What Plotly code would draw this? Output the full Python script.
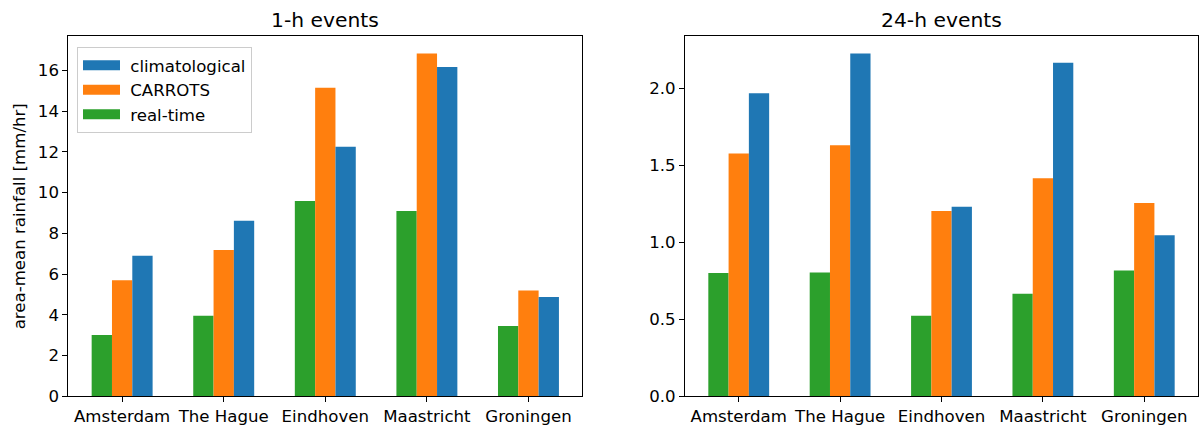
import plotly.graph_objects as go

cities = ["Amsterdam", "The Hague", "Eindhoven", "Maastricht", "Groningen"]
series_names = ["real-time", "CARROTS", "climatological"]
colors = ["#2ca02c", "#ff7f0e", "#1f77b4"]

h1_realtime = [3.01, 3.95, 9.59, 9.10, 3.45]
h1_carrots = [5.70, 7.18, 15.15, 16.83, 5.19]
h1_clim = [6.90, 8.62, 12.25, 16.17, 4.87]

h24_realtime = [0.801, 0.803, 0.522, 0.665, 0.816]
h24_carrots = [1.576, 1.629, 1.203, 1.415, 1.254]
h24_clim = [1.967, 2.225, 1.230, 2.165, 1.046]

left_ticks = [0, 2, 4, 6, 8, 10, 12, 14, 16]
right_ticks = [0.0, 0.5, 1.0, 1.5, 2.0]
right_tick_text = ["0.0", "0.5", "1.0", "1.5", "2.0"]

FONT = "DejaVu Sans"
FS = 16.6
W, H = 1200, 439

fig = go.Figure()
xidx = list(range(len(cities)))

for name, vals, col in zip(series_names, [h1_realtime, h1_carrots, h1_clim], colors):
    fig.add_trace(go.Bar(x=xidx, y=vals, name=name, marker=dict(color=col, line=dict(width=0)),
                         xaxis="x", yaxis="y", showlegend=False))
for name, vals, col in zip(series_names, [h24_realtime, h24_carrots, h24_clim], colors):
    fig.add_trace(go.Bar(x=xidx, y=vals, name=name, marker=dict(color=col, line=dict(width=0)),
                         xaxis="x2", yaxis="y2", showlegend=False))
# legend entries (wide colour patches like matplotlib)
for name, col in zip(series_names, colors):
    fig.add_trace(go.Scatter(x=[None], y=[None], mode="lines", name="\u00a0" + name,
                             line=dict(color=col, width=11), xaxis="x", yaxis="y", showlegend=True))

def px_x(p):
    return p / W

def px_y(p):
    return 1 - p / H

ydom = [px_y(405.5), px_y(37.3)]

axis_common = dict(showline=True, linecolor="black", linewidth=1, mirror=True,
                   ticks="outside", ticklen=5, tickwidth=1, tickcolor="black",
                   showgrid=False, zeroline=False,
                   tickfont=dict(family=FONT, size=FS, color="black"))

fig.update_layout(
    width=W, height=H,
    margin=dict(l=0, r=0, t=0, b=0),
    paper_bgcolor="white", plot_bgcolor="white",
    barmode="group", bargap=0.4, bargroupgap=0,
    font=dict(family=FONT, size=FS, color="black"),
    xaxis=dict(domain=[px_x(68.3), px_x(582.3)], range=[-0.53, 4.53],
               tickvals=xidx, ticktext=cities, anchor="y", **axis_common),
    yaxis=dict(domain=ydom, range=[0, 17.67], tickvals=left_ticks, anchor="x", **axis_common),
    xaxis2=dict(domain=[px_x(685), px_x(1198)], range=[-0.53, 4.53],
                tickvals=xidx, ticktext=cities, anchor="y2", **axis_common),
    yaxis2=dict(domain=ydom, range=[0, 2.336], tickvals=right_ticks, ticktext=right_tick_text,
                anchor="x2", **axis_common),
    legend=dict(x=px_x(77), y=px_y(48), xanchor="left", yanchor="top",
                traceorder="reversed", bgcolor="rgba(255,255,255,0.8)",
                bordercolor="#cccccc", borderwidth=1,
                font=dict(family=FONT, size=FS, color="black"),
                itemwidth=37, tracegroupgap=0),
    annotations=[
        dict(text="1-h events", x=(px_x(68.3) + px_x(582.3)) / 2, y=px_y(20), xref="paper", yref="paper",
             showarrow=False, font=dict(family=FONT, size=20.3, color="black"), xanchor="center", yanchor="middle"),
        dict(text="24-h events", x=(px_x(685) + px_x(1198)) / 2, y=px_y(20), xref="paper", yref="paper",
             showarrow=False, font=dict(family=FONT, size=20.3, color="black"), xanchor="center", yanchor="middle"),
        dict(text="area-mean rainfall [mm/hr]", x=px_x(19), y=(ydom[0] + ydom[1]) / 2, xref="paper", yref="paper",
             showarrow=False, textangle=-90, font=dict(family=FONT, size=FS, color="black"),
             xanchor="center", yanchor="middle"),
    ],
)

fig.write_html("out.html")
